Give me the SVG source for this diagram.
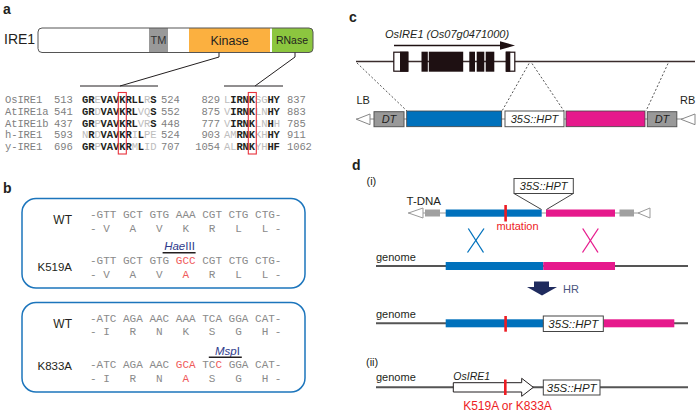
<svg xmlns="http://www.w3.org/2000/svg" width="698" height="414" viewBox="0 0 698 414">
<style>
text{font-family:"Liberation Sans",Arial,sans-serif;fill:#231F20}
.pl{font-size:14px;font-weight:bold}
.al{font-family:"Liberation Mono","Courier New",monospace;font-size:10.5px;letter-spacing:-0.1px;fill:#808080}
.k{font-weight:bold;fill:#231F20}
.g{fill:#BDBDBD}
.cod{font-family:"Liberation Mono","Courier New",monospace;font-size:11px;fill:#8A8A8A}
.r{fill:#EF5A5A}
.it{font-style:italic}
.enz{fill:#2E3A8C}
.red{fill:#ED1C24}
.hr{fill:#4A5580}
.tm{fill:#333}
.box{fill:none;stroke:#1C75BC;stroke-width:1.5}
.ln{stroke:#231F20;stroke-width:1;fill:none}
.dot{stroke:#555;stroke-width:1;stroke-dasharray:2 2;fill:none}
.ex{fill:#1E1012}
.blue{fill:#0071BC}
.mag{fill:#E6198C}
.gline{stroke:#555;stroke-width:2}
.mut{fill:#ED1C24}
</style>
<defs>
<clipPath id="barclip"><rect x="38" y="28" width="275" height="24.5" rx="4"/></clipPath>
</defs>

<g id="panel-a">
<text class="pl" x="3" y="14">a</text>
<text x="4" y="44" font-size="14">IRE1</text>
<g id="ire1-bar">
<rect x="38" y="28" width="275" height="24.5" rx="4" fill="#fff"/>
<g clip-path="url(#barclip)">
<rect x="149" y="28" width="19" height="24.5" fill="#999"/>
<rect x="189" y="28" width="81" height="24.5" fill="#FBB040"/>
<rect x="272" y="28" width="41" height="24.5" fill="#8CC63F"/>
</g>
<rect x="38" y="28" width="275" height="24.5" rx="4" fill="none" stroke="#555" stroke-width="1"/>
<text class="tm" x="158.5" y="44" font-size="11" text-anchor="middle">TM</text>
<text x="229.5" y="44.5" font-size="12.5" text-anchor="middle">Kinase</text>
<text x="292" y="44" font-size="10.5" text-anchor="middle">RNase</text>
</g>
<g id="a-connectors">
<polyline class="ln" points="219,52.5 219,57 120,86"/>
<polyline class="ln" points="295,52.5 295,57 255,86"/>
<line class="ln" x1="80" y1="86" x2="158" y2="86"/>
<line class="ln" x1="224" y1="86" x2="283" y2="86"/>
</g>
<g id="alignment">
<text class="al" x="5" y="103">OsIRE1</text>
<text class="al" x="5" y="114.8">AtIRE1a</text>
<text class="al" x="5" y="126.6">AtIRE1b</text>
<text class="al" x="5" y="138.4">h-IRE1</text>
<text class="al" x="5" y="150.2">y-IRE1</text>
<text class="al" x="54" y="103">513</text>
<text class="al" x="54" y="114.8">541</text>
<text class="al" x="54" y="126.6">437</text>
<text class="al" x="54" y="138.4">593</text>
<text class="al" x="54" y="150.2">696</text>
<text class="al" x="82" y="103"><tspan class="k">GR</tspan><tspan class="g">E</tspan><tspan class="k">VAVKRLL</tspan><tspan class="g">R</tspan><tspan class="k">S</tspan></text>
<text class="al" x="82" y="114.8"><tspan class="k">GR</tspan><tspan class="g">D</tspan><tspan class="k">VAVKRL</tspan><tspan class="g">VQ</tspan><tspan class="k">S</tspan></text>
<text class="al" x="82" y="126.6"><tspan class="k">GR</tspan><tspan class="g">P</tspan><tspan class="k">VAVKRL</tspan><tspan class="g">VR</tspan><tspan class="k">S</tspan></text>
<text class="al" x="82" y="138.4"><tspan class="g">N</tspan><tspan class="k">R</tspan><tspan class="g">D</tspan><tspan class="k">VAVKR</tspan><tspan class="g">I</tspan><tspan class="k">L</tspan><tspan class="g">PE</tspan></text>
<text class="al" x="82" y="150.2"><tspan class="k">GR</tspan><tspan class="g">P</tspan><tspan class="k">VAVKR</tspan><tspan class="g">M</tspan><tspan class="k">L</tspan><tspan class="g">ID</tspan></text>
<text class="al" x="161" y="103">524</text>
<text class="al" x="161" y="114.8">552</text>
<text class="al" x="161" y="126.6">448</text>
<text class="al" x="161" y="138.4">524</text>
<text class="al" x="161" y="150.2">707</text>
<text class="al" x="220" y="103" text-anchor="end">829</text>
<text class="al" x="220" y="114.8" text-anchor="end">875</text>
<text class="al" x="220" y="126.6" text-anchor="end">777</text>
<text class="al" x="220" y="138.4" text-anchor="end">903</text>
<text class="al" x="220" y="150.2" text-anchor="end">1054</text>
<text class="al" x="224" y="103"><tspan class="g">L</tspan><tspan class="k">IRNK</tspan><tspan class="g">SG</tspan><tspan class="k">HY</tspan></text>
<text class="al" x="224" y="114.8"><tspan class="g">V</tspan><tspan class="k">IRNK</tspan><tspan class="g">LN</tspan><tspan class="k">HY</tspan></text>
<text class="al" x="224" y="126.6"><tspan class="g">V</tspan><tspan class="k">IRNK</tspan><tspan class="g">LN</tspan><tspan class="k">H</tspan><tspan class="g">H</tspan></text>
<text class="al" x="224" y="138.4"><tspan class="g">AM</tspan><tspan class="k">RNK</tspan><tspan class="g">KH</tspan><tspan class="k">HY</tspan></text>
<text class="al" x="224" y="150.2"><tspan class="g">AL</tspan><tspan class="k">RNK</tspan><tspan class="g">YH</tspan><tspan class="k">HF</tspan></text>
<text class="al" x="287" y="103">837</text>
<text class="al" x="287" y="114.8">883</text>
<text class="al" x="287" y="126.6">785</text>
<text class="al" x="287" y="138.4">911</text>
<text class="al" x="287" y="150.2">1062</text>
<rect x="118.3" y="92.5" width="8" height="61.5" fill="none" stroke="#E8323C" stroke-width="1.1"/>
<rect x="248.3" y="92.5" width="8" height="61.5" fill="none" stroke="#E8323C" stroke-width="1.1"/>
</g>
</g>

<g id="panel-b">
<text class="pl" x="3" y="193">b</text>
<g id="box-k519a">
<rect class="box" x="22" y="198.5" width="283" height="89.5" rx="14"/>
<text x="72" y="223.5" font-size="12" text-anchor="end">WT</text>
<text class="cod" x="90" y="218" xml:space="preserve">-GTT GCT GTG AAA CGT CTG CTG-</text>
<text class="cod" x="90" y="231.5" xml:space="preserve">- V   A   V   K   R   L   L -</text>
<text class="enz" x="179.5" y="250" font-size="11.5" text-anchor="middle"><tspan class="it">Hae</tspan>III</text>
<line x1="162.6" y1="252.8" x2="195.6" y2="252.8" stroke="#231F20" stroke-width="1.5"/>
<text x="72" y="271" font-size="11.5" text-anchor="end">K519A</text>
<text class="cod" x="90" y="263.5" xml:space="preserve">-GTT GCT GTG <tspan class="r">GCC</tspan> CGT CTG CTG-</text>
<text class="cod" x="90" y="277.5" xml:space="preserve">- V   A   V   <tspan class="r">A</tspan>   R   L   L -</text>
</g>
<g id="box-k833a">
<rect class="box" x="22" y="302.5" width="283" height="89.5" rx="14"/>
<text x="72" y="328" font-size="12" text-anchor="end">WT</text>
<text class="cod" x="90" y="321.5" xml:space="preserve">-ATC AGA AAC AAA TCA GGA CAT-</text>
<text class="cod" x="90" y="335" xml:space="preserve">- I   R   N   K   S   G   H -</text>
<text class="enz" x="227.5" y="354.5" font-size="11.5" text-anchor="middle"><tspan class="it">Msp</tspan>I</text>
<line x1="208.8" y1="357.3" x2="241.8" y2="357.3" stroke="#231F20" stroke-width="1.5"/>
<text x="72" y="370" font-size="11.5" text-anchor="end">K833A</text>
<text class="cod" x="90" y="367.5" xml:space="preserve">-ATC AGA AAC <tspan class="r">GCA</tspan> TC<tspan class="r">C</tspan> GGA CAT-</text>
<text class="cod" x="90" y="381.5" xml:space="preserve">- I   R   N   <tspan class="r">A</tspan>   S   G   H -</text>
</g>
</g>

<g id="panel-c">
<text class="pl" x="349" y="21.5">c</text>
<g id="gene">
<text class="it" x="385" y="37.5" font-size="11">OsIRE1 (Os07g0471000)</text>
<line x1="394" y1="45.5" x2="502" y2="45.5" stroke="#1E1012" stroke-width="1.5"/>
<polygon points="500,41.3 515,45.5 500,49.7" fill="#1E1012"/>
<line x1="356" y1="61.5" x2="695" y2="61.5" stroke="#3A2C2C" stroke-width="1.5"/>
<rect x="393.8" y="52.2" width="14" height="19" fill="#fff" stroke="#1E1012" stroke-width="1.2"/>
<rect class="ex" x="400" y="51.7" width="8.3" height="20"/>
<rect class="ex" x="421.5" y="51.7" width="6.3" height="20"/>
<rect class="ex" x="428.8" y="51.7" width="34.4" height="20"/>
<rect class="ex" x="469.3" y="51.7" width="5.7" height="20"/>
<rect class="ex" x="476.7" y="51.7" width="7.6" height="20"/>
<rect class="ex" x="485.7" y="51.7" width="8.6" height="20"/>
<rect x="506.3" y="52.2" width="8.5" height="19" fill="#fff" stroke="#1E1012" stroke-width="1.2"/>
<rect class="ex" x="505.8" y="51.7" width="4.5" height="20"/>
</g>
<g id="c-connectors">
<line class="dot" x1="357" y1="63" x2="407" y2="111"/>
<line class="dot" x1="529" y1="63.5" x2="502" y2="111"/>
<line class="dot" x1="532" y1="63.5" x2="564" y2="111"/>
<line class="dot" x1="668" y1="63.5" x2="646" y2="111"/>
</g>
<g id="construct">
<text x="356.5" y="104" font-size="11">LB</text>
<text x="680" y="104" font-size="11">RB</text>
<line x1="356" y1="119" x2="695" y2="119" stroke="#888" stroke-width="1"/>
<polygon points="356.5,119.3 370,114 370,124.7" fill="#fff" stroke="#888" stroke-width="1"/>
<rect x="374" y="111.7" width="30" height="15" fill="#999" stroke="#555" stroke-width="1"/>
<text class="it" x="389" y="123" font-size="11" text-anchor="middle">DT</text>
<rect class="blue" x="406.7" y="111" width="95" height="15.7" stroke="#444" stroke-width="0.8"/>
<rect x="505" y="111" width="59" height="15.7" fill="#fff" stroke="#555" stroke-width="1"/>
<text class="it" x="534.5" y="123" font-size="11" text-anchor="middle">35S::HPT</text>
<rect class="mag" x="566" y="111" width="79" height="15.7" stroke="#444" stroke-width="0.8"/>
<rect x="647.3" y="111.7" width="29.5" height="15" fill="#999" stroke="#555" stroke-width="1"/>
<text class="it" x="662" y="123" font-size="11" text-anchor="middle">DT</text>
<polygon points="681,119.3 695,114 695,124.7" fill="#fff" stroke="#888" stroke-width="1"/>
</g>
</g>

<g id="panel-d">
<text class="pl" x="352" y="170">d</text>
<text x="366.5" y="185" font-size="11">(i)</text>
<g id="tdna">
<text x="406.5" y="205" font-size="11.5">T-DNA</text>
<line x1="408" y1="213" x2="650" y2="213" stroke="#999" stroke-width="1"/>
<polygon points="408.5,213 423,208 423,218" fill="#fff" stroke="#999" stroke-width="1"/>
<rect x="425" y="209.5" width="15" height="7" fill="#A0A0A0"/>
<rect class="blue" x="445.7" y="209.5" width="96" height="7.2"/>
<rect class="mag" x="546" y="209.5" width="69" height="7.2"/>
<rect x="619.5" y="209.5" width="14.5" height="7" fill="#A0A0A0"/>
<polygon points="638,213 650,208 650,218" fill="#fff" stroke="#999" stroke-width="1"/>
<rect class="mut" x="504.3" y="205" width="2.6" height="16.5"/>
<text class="red" x="517.5" y="230" font-size="11" text-anchor="middle">mutation</text>
<rect x="514" y="178.5" width="59.3" height="15" fill="#fff" stroke="#444" stroke-width="1"/>
<text class="it" x="543.7" y="190" font-size="11" text-anchor="middle">35S::HPT</text>
<polyline points="514,193.5 541.5,209.5" fill="none" stroke="#444" stroke-width="1"/>
<polyline points="573.3,193.5 546.5,209.5" fill="none" stroke="#444" stroke-width="1"/>
</g>
<g id="crossovers">
<line x1="468.3" y1="228.5" x2="483.5" y2="252.5" stroke="#0071BC" stroke-width="1.3"/>
<line x1="484" y1="228.5" x2="467.5" y2="252.5" stroke="#0071BC" stroke-width="1.3"/>
<line x1="582.7" y1="228.5" x2="598" y2="252.5" stroke="#E6198C" stroke-width="1.3"/>
<line x1="598.3" y1="228.5" x2="582.5" y2="252.5" stroke="#E6198C" stroke-width="1.3"/>
</g>
<g id="genome-1">
<text x="376" y="261" font-size="11">genome</text>
<line class="gline" x1="376" y1="266" x2="688" y2="266"/>
<rect class="blue" x="445.7" y="262" width="97.6" height="8"/>
<rect class="mag" x="543.3" y="262" width="71.7" height="8"/>
</g>
<g id="hr-arrow">
<path d="M534,281.5 H549 V287 H557 L542,295.5 L527,287 H534 Z" fill="#1F2B5E"/>
<text class="hr" x="563" y="293" font-size="11">HR</text>
</g>
<g id="genome-2">
<text x="376" y="318" font-size="11">genome</text>
<line class="gline" x1="376" y1="323.3" x2="688" y2="323.3"/>
<rect class="blue" x="445.7" y="319.3" width="97.6" height="8"/>
<rect class="mut" x="504.3" y="316" width="2.6" height="15.7"/>
<rect class="mag" x="603.3" y="319.3" width="71" height="8"/>
<rect x="543.3" y="316" width="60" height="15.5" fill="#fff" stroke="#444" stroke-width="1"/>
<text class="it" x="573.3" y="327.8" font-size="11.5" text-anchor="middle">35S::HPT</text>
</g>
<text x="366" y="366" font-size="11">(ii)</text>
<g id="genome-3">
<text x="376" y="381" font-size="11">genome</text>
<line class="gline" x1="376" y1="387.3" x2="688" y2="387.3"/>
<text class="it" x="453.3" y="379.5" font-size="10.5">OsIRE1</text>
<path d="M453.3,382.7 H521.7 V378.3 L533.3,387.3 L521.7,396.3 V392 H453.3 Z" fill="#fff" stroke="#231F20" stroke-width="1"/>
<rect class="mut" x="504" y="379.5" width="2.6" height="15.5"/>
<rect x="543.3" y="380" width="56.7" height="15" fill="#fff" stroke="#444" stroke-width="1"/>
<text class="it" x="571.7" y="391.5" font-size="11.5" text-anchor="middle">35S::HPT</text>
<text class="red" x="507.5" y="410" font-size="12" text-anchor="middle">K519A or K833A</text>
</g>
</g>
</svg>
